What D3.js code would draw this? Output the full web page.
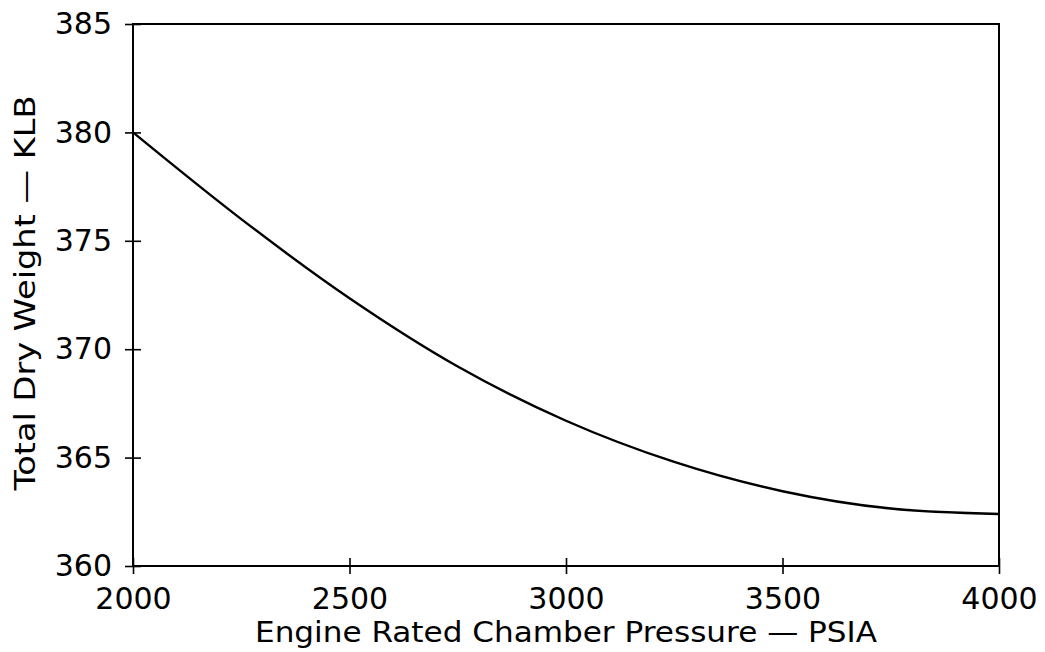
<!DOCTYPE html>
<html>
<head>
<meta charset="utf-8">
<script src="https://cdn.jsdelivr.net/npm/d3@7"></script>
<style>
  body { margin: 0; background: #fff; }
  text { font-family: "DejaVu Sans", sans-serif; fill: #000; }
</style>
</head>
<body>
<div id="chart"></div>
<script>
// values
var pressure = [2000, 2250, 2500, 2750, 3000, 3250, 3500, 3750, 4000];
var dryWeight = [380.0, 376.0, 372.35, 369.2, 366.7, 364.8, 363.45, 362.65, 362.4];
var xTicks = [2000, 2500, 3000, 3500, 4000];
var yTicks = [360, 365, 370, 375, 380, 385];

var W = 1045, H = 652;
var margin = {top: 24, right: 46, bottom: 86, left: 133},
    width = W - margin.left - margin.right,
    height = H - margin.top - margin.bottom;

var svg = d3.select("#chart").append("svg")
    .attr("width", W)
    .attr("height", H);

var g = svg.append("g")
    .attr("transform", "translate(" + margin.left + "," + margin.top + ")");

var x = d3.scaleLinear().domain([2000, 4000]).range([0, width]);
var y = d3.scaleLinear().domain([360, 385]).range([height, 0]);

// frame
g.append("rect")
    .attr("width", width)
    .attr("height", height)
    .attr("fill", "none")
    .attr("stroke", "#000")
    .attr("stroke-width", 2);

// x axis, ticks crossing the line
var xAxis = g.append("g")
    .attr("transform", "translate(0," + height + ")")
    .call(d3.axisBottom(x).tickValues(xTicks).tickSize(8).tickPadding(14).tickFormat(d3.format("d")));
xAxis.select(".domain").remove();
xAxis.selectAll("line").attr("y1", -8).attr("stroke-width", 1.6);
xAxis.selectAll("text").style("font-size", "30px").attr("fill", "#000");

// y axis
var yAxis = g.append("g")
    .call(d3.axisLeft(y).tickValues(yTicks).tickSize(8).tickPadding(13).tickFormat(d3.format("d")));
yAxis.select(".domain").remove();
yAxis.selectAll("line").attr("x1", 8).attr("stroke-width", 1.6);
yAxis.selectAll("text").style("font-size", "30px").attr("fill", "#000");

// curve
var line = d3.line()
    .x(function(d, i) { return x(pressure[i]); })
    .y(function(d) { return y(d); })
    .curve(d3.curveMonotoneX);

g.append("path")
    .datum(dryWeight)
    .attr("fill", "none")
    .attr("stroke", "#000")
    .attr("stroke-width", 2.4)
    .attr("d", line);

// axis titles
svg.append("text")
    .attr("x", 566)
    .attr("y", 642)
    .attr("text-anchor", "middle")
    .attr("textLength", 622)
    .attr("lengthAdjust", "spacingAndGlyphs")
    .style("font-size", "29px")
    .text("Engine Rated Chamber Pressure \u2014 PSIA");

svg.append("text")
    .attr("transform", "translate(35,293) rotate(-90)")
    .attr("text-anchor", "middle")
    .attr("textLength", 395)
    .attr("lengthAdjust", "spacingAndGlyphs")
    .style("font-size", "29px")
    .text("Total Dry Weight \u2014 KLB");
</script>
</body>
</html>
